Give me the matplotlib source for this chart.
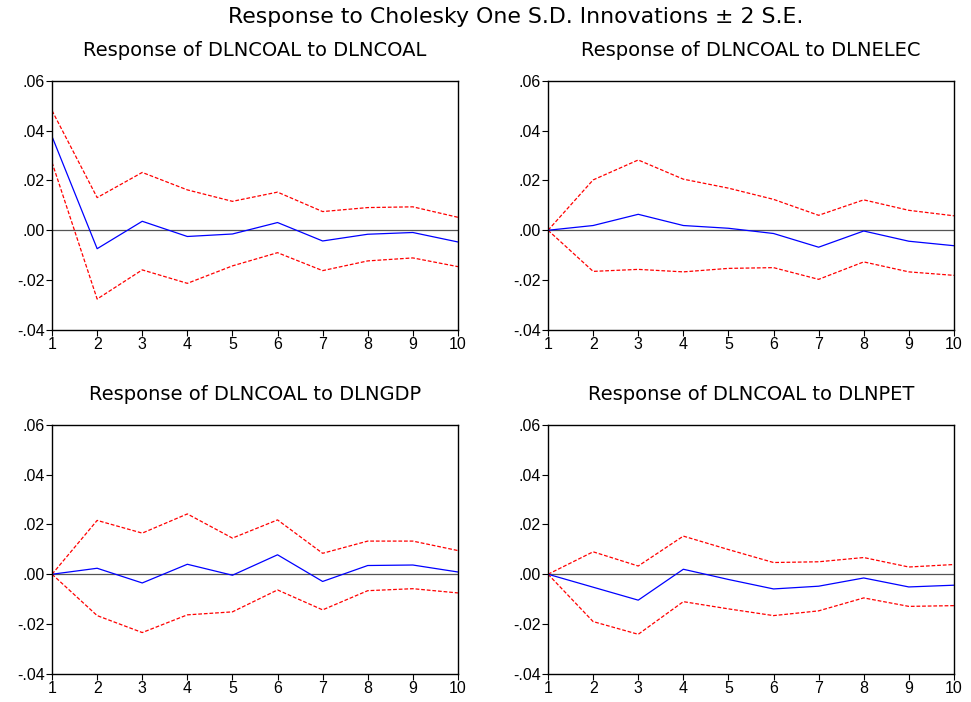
import numpy as np
import matplotlib
matplotlib.use('Agg')
import matplotlib.pyplot as plt

plt.rcParams['font.family'] = ['Liberation Sans', 'DejaVu Sans']

# impulse response horizon
periods = np.arange(1, 11)

titles = ['Response of DLNCOAL to DLNCOAL', 'Response of DLNCOAL to DLNELEC',
          'Response of DLNCOAL to DLNGDP', 'Response of DLNCOAL to DLNPET']

# responses
coal_resp = [0.0376, -0.0074, 0.0036, -0.0025, -0.0015, 0.0031, -0.0043, -0.0016, -0.0009, -0.0047]
coal_up = [0.0480, 0.0131, 0.0232, 0.0162, 0.0116, 0.0153, 0.0075, 0.0091, 0.0094, 0.0052]
coal_lo = [0.0272, -0.0276, -0.0159, -0.0213, -0.0143, -0.0090, -0.0162, -0.0123, -0.0111, -0.0146]

elec_resp = [0.0, 0.0019, 0.0064, 0.0019, 0.0008, -0.0013, -0.0068, -0.0003, -0.0044, -0.0062]
elec_up = [0.0, 0.0202, 0.0282, 0.0205, 0.0169, 0.0124, 0.0060, 0.0122, 0.0080, 0.0058]
elec_lo = [0.0, -0.0165, -0.0157, -0.0167, -0.0153, -0.0150, -0.0197, -0.0127, -0.0167, -0.0181]

gdp_resp = [0.0, 0.0024, -0.0035, 0.0040, -0.0004, 0.0078, -0.0029, 0.0035, 0.0037, 0.0009]
gdp_up = [0.0, 0.0216, 0.0165, 0.0242, 0.0145, 0.0218, 0.0084, 0.0133, 0.0133, 0.0095]
gdp_lo = [0.0, -0.0166, -0.0234, -0.0163, -0.0151, -0.0063, -0.0143, -0.0066, -0.0058, -0.0075]

pet_resp = [0.0, -0.0052, -0.0104, 0.0020, -0.0021, -0.0059, -0.0048, -0.0015, -0.0051, -0.0044]
pet_up = [0.0, 0.0090, 0.0033, 0.0153, 0.0099, 0.0047, 0.0050, 0.0067, 0.0029, 0.0039]
pet_lo = [0.0, -0.0190, -0.0241, -0.0110, -0.0139, -0.0166, -0.0147, -0.0095, -0.0129, -0.0126]

series = [(coal_resp, coal_up, coal_lo), (elec_resp, elec_up, elec_lo),
          (gdp_resp, gdp_up, gdp_lo), (pet_resp, pet_up, pet_lo)]

yticks = [-0.04, -0.02, 0.0, 0.02, 0.04, 0.06]
ylabels = ['-.04', '-.02', '.00', '.02', '.04', '.06']

# the original titles are drawn wide, DejaVu gets closer to that width
title_font = ['DejaVu Sans']

fig = plt.figure(figsize=(9.71, 7.02), dpi=100)
fig.suptitle('Response to Cholesky One S.D. Innovations \u00b1 2 S.E.', x=0.531, y=0.99,
             fontsize=15.8, family=title_font)

# axes boxes in figure fractions
lefts = [0.0536, 0.5644]
bottoms = [0.530, 0.040]
w, h = 0.418, 0.355

for i, (resp, up, lo) in enumerate(series):
    ax = fig.add_axes([lefts[i % 2], bottoms[i // 2], w, h])
    ax.axhline(0, color='#555555', linewidth=0.9)
    ax.plot(periods, up, color='#ff0000', linestyle=(0, (3, 1.5)), linewidth=0.9)
    ax.plot(periods, lo, color='#ff0000', linestyle=(0, (3, 1.5)), linewidth=0.9)
    ax.plot(periods, resp, color='#0000ff', linewidth=0.9)
    ax.set_xlim(1, 10)
    ax.set_ylim(-0.04, 0.06)
    ax.set_xticks(periods)
    ax.set_yticks(yticks)
    ax.set_yticklabels(ylabels)
    ax.tick_params(direction='out', length=4, labelsize=11.5, width=0.8, pad=1)
    for s in ax.spines.values():
        s.set_linewidth(1.0)
    ax.set_title(titles[i], fontsize=14, pad=18, family=title_font)

plt.savefig('out.png', dpi=100)
